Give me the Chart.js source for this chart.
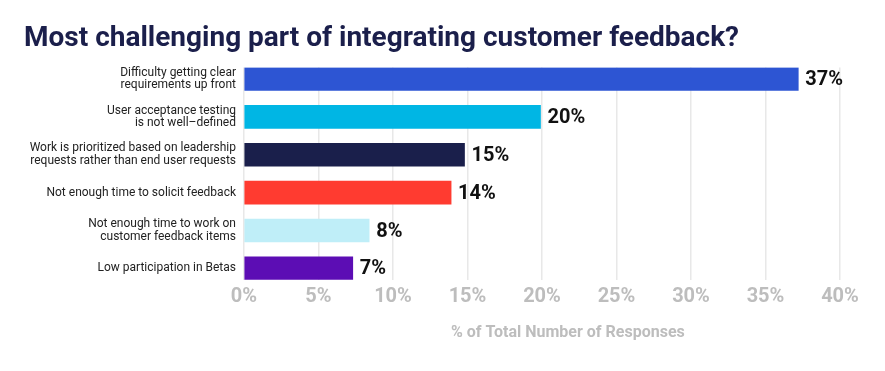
<!DOCTYPE html>
<html>
<head>
<meta charset="utf-8">
<script src="https://cdn.jsdelivr.net/npm/chart.js@4.4.1/dist/chart.umd.min.js"></script>
<style>
  html, body { margin: 0; padding: 0; background: #ffffff; }
  #wrap { width: 885px; height: 371px; position: relative; }
</style>
</head>
<body>
<div id="wrap"><canvas id="c"></canvas></div>
<script>
const categories = [
  ["Difficulty getting clear", "requirements up front"],
  ["User acceptance testing", "is not well\u2013defined"],
  ["Work is prioritized based on leadership", "requests rather than end user requests"],
  ["Not enough time to solicit feedback"],
  ["Not enough time to work on", "customer feedback items"],
  ["Low participation in Betas"]
];
const values = [37.2, 19.9, 14.8, 13.9, 8.4, 7.3];
const valueLabels = ["37%", "20%", "15%", "14%", "8%", "7%"];
const barColors = ["#2d55d3", "#00b6e4", "#1a1f4b", "#ff3b30", "#bfeef8", "#5c0db4"];
const xTicks = ["0%", "5%", "10%", "15%", "20%", "25%", "30%", "35%", "40%"];
const xAxisTitle = "% of Total Number of Responses";

const points = values.map((v, i) => ({ x: v, y: i }));

const valueLabelPlugin = {
  id: 'valueLabels',
  afterDatasetsDraw(chart) {
    const ctx = chart.ctx;
    const meta = chart.getDatasetMeta(0);
    ctx.save();
    ctx.font = "bold 20px Roboto";
    ctx.fillStyle = "#111111";
    ctx.textBaseline = "middle";
    ctx.textAlign = "left";
    meta.data.forEach((bar, i) => {
      ctx.fillText(valueLabels[i], bar.x + 7, bar.y + 1);
    });
    ctx.restore();
  }
};

new Chart(document.getElementById('c'), {
  type: 'bar',
  data: {
    datasets: [{
      data: points,
      backgroundColor: barColors,
      borderWidth: 0,
      barThickness: 23
    }]
  },
  plugins: [valueLabelPlugin],
  options: {
    indexAxis: 'y',
    responsive: true,
    maintainAspectRatio: false,
    animation: false,
    layout: { padding: { left: 24, right: 45, top: 0, bottom: 28 } },
    plugins: {
      legend: { display: false },
      tooltip: { enabled: false },
      title: {
        display: true,
        text: "Most challenging part of integrating customer feedback?",
        align: 'start',
        color: "#1b1f4b",
        font: { family: "Roboto", size: 28, weight: 'bold', lineHeight: 1.2 },
        padding: { top: 22, bottom: 12 }
      }
    },
    scales: {
      x: {
        type: 'linear',
        min: 0,
        max: 40,
        border: { display: false },
        grid: { color: "#e8e8e8", lineWidth: 1.5, drawTicks: false },
        ticks: {
          stepSize: 5,
          padding: 5,
          color: "#bdbdbd",
          font: { family: "Roboto", size: 20, weight: 'bold' },
          callback: (v, i) => xTicks[i]
        },
        title: {
          display: true,
          text: " ".repeat(13) + xAxisTitle,
          color: "#bdbdbd",
          font: { family: "Roboto", size: 16, weight: 'bold' },
          padding: { top: 10, bottom: 0 }
        }
      },
      y: {
        type: 'linear',
        offset: false,
        reverse: true,
        min: -0.3,
        max: 5.3,
        afterFit: (s) => { s.width = 220; },
        afterBuildTicks: (s) => { s.ticks = categories.map((c, i) => ({ value: i })); },
        border: { display: false },
        grid: { display: false, offset: false },
        ticks: {
          padding: 0,
          color: "#222222",
          font: { family: "Roboto", size: 12, lineHeight: 1.05 },
          callback: (v) => categories[v]
        }
      }
    }
  }
});
</script>
</body>
</html>
